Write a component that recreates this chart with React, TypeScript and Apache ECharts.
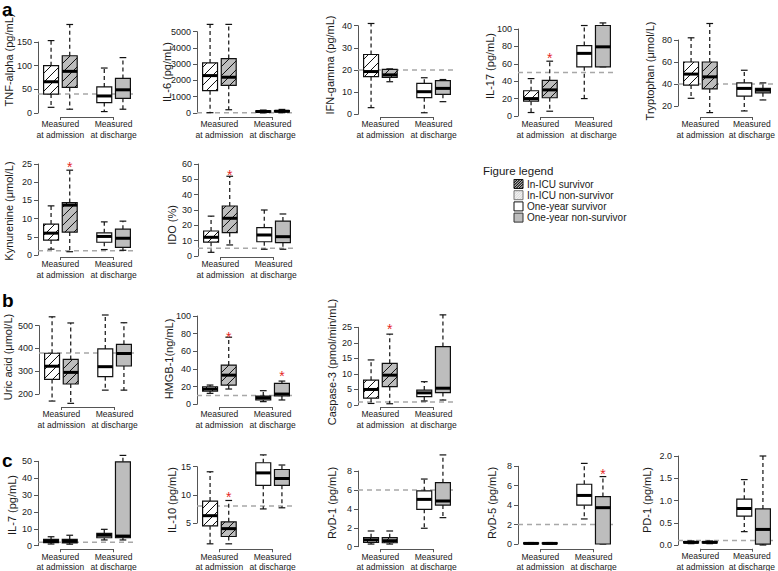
import React, { useEffect, useRef } from "react";
import * as echarts from "echarts";

const FONT = '"Liberation Sans", Arial, Helvetica, sans-serif';

// ---------------- data ----------------
const GROUPS = ["In-ICU survivor", "In-ICU non-survivor", "One-year survivor", "One-year non-survivor"];
const TIMEPOINTS = ["Measured\nat admission", "Measured\nat discharge"];

// each: [lower whisker, Q1, median, Q3, upper whisker] for the 4 groups
const tnfAlpha = [[12, 40, 66, 100, 153], [8, 54, 88, 121, 187], [3, 22, 36, 55, 95], [8, 31, 49, 73, 117]];
const il6 = [[20, 1370, 2300, 3080, 5450], [200, 1700, 2200, 3350, 5450], [10, 60, 90, 130, 180], [20, 70, 110, 150, 220]];
const ifnGamma = [[3, 17, 19.3, 27, 41], [14.7, 16.7, 17.8, 20.3, 20.5], [0.7, 7.5, 10.2, 14, 16.5], [5.7, 9, 11.7, 15.2, 15.7]];
const il17 = [[4, 17, 20, 29, 43], [5.5, 21, 30, 41, 63], [20, 56.5, 72, 81, 104], [56.5, 56.5, 79.5, 104, 107]];
const tryptophan = [[27, 39, 49, 60, 82], [14, 35.5, 46.5, 60, 95], [15.5, 29, 36, 41, 52.5], [25.5, 32, 34.5, 36, 41]];
const kynurenine = [[1.6, 4.1, 6, 8.5, 13.5], [0.9, 6.3, 13.7, 14.4, 23.3], [1.5, 3.5, 5.1, 6.1, 9.1], [1.3, 2.1, 4.6, 7.1, 9.3]];
const ido = [[2.4, 9, 12.2, 16.3, 26], [7.2, 15.2, 24.6, 32.6, 52], [4.4, 9.3, 13.7, 18.5, 30], [4.4, 8.7, 12.6, 22.8, 27.4]];
const uricAcid = [[169, 264, 322, 379, 539], [159, 244, 295, 352, 512], [217, 276, 320, 398, 547], [217, 323, 378, 418, 513]];
const hmgb1 = [[12.4, 15, 17.3, 19.9, 21.8], [17.3, 21.8, 33, 44.4, 76], [3, 4.9, 7.5, 9.4, 15.4], [4.9, 9.4, 11.6, 23.7, 26.3]];
const caspase3 = [[0.5, 2.2, 5, 8, 14.5], [0.4, 5.9, 9.6, 13.4, 22.8], [1.3, 2.7, 3.9, 4.8, 7.5], [1.6, 4, 5.4, 18.8, 29]];
const il7 = [[1, 1.8, 2.6, 3.8, 5.3], [0.9, 1.7, 2.6, 3.7, 6.2], [3.4, 4.7, 6.2, 7.3, 9.7], [3.4, 4.7, 5.7, 49.7, 53.5]];
const il10 = [[1.3, 4.5, 6.3, 8.9, 14.1], [1.3, 2.6, 4, 5.2, 9], [7.5, 11.7, 13.9, 15.7, 17.1], [7.7, 11.7, 12.9, 14.5, 15.3]];
const rvd1 = [[0.28, 0.46, 0.72, 0.95, 1.66], [0.28, 0.42, 0.63, 0.95, 1.66], [1.95, 3.95, 5, 5.9, 7.15], [3.07, 4.4, 4.83, 6.77, 9.7]];
const rvd5 = [[0, 0.03, 0.06, 0.12, 0.15], [0, 0.03, 0.06, 0.12, 0.15], [2.58, 4, 5, 6.15, 8.3], [0, 0, 3.74, 4.88, 6.94]];
const pd1 = [[0.03, 0.045, 0.06, 0.075, 0.09], [0.03, 0.045, 0.06, 0.075, 0.09], [0.3, 0.65, 0.82, 1.03, 1.47], [0, 0.02, 0.35, 0.81, 2.0]];

// y-axis tick labels
const tnfTicks = [0, 50, 100, 150];
const il6Ticks = [0, 1000, 2000, 3000, 4000, 5000];
const ifnTicks = [0, 10, 20, 30, 40];
const il17Ticks = [0, 20, 40, 60, 80, 100];
const trpTicks = [20, 40, 60, 80];
const kynTicks = [0, 5, 10, 15, 20, 25];
const idoTicks = [0, 10, 20, 30, 40, 50, 60];
const uricTicks = [200, 300, 400, 500];
const hmgbTicks = [0, 20, 40, 60, 80, 100];
const caspTicks = [0, 5, 10, 15, 20, 25];
const il7Ticks = [0, 10, 20, 30, 40, 50];
const il10Ticks = [5, 10, 15];
const rvd1Ticks = [0, 2, 4, 6, 8];
const rvd5Ticks = [0, 2, 4, 6, 8];
const pd1Ticks = [0, 0.5, 1, 1.5, 2];

// reference (normal) values, dashed lines
const referenceValues = [40, 10, 20, 50, 40, 1.2, 5, 380, 10, 1, 2, 8, 6, 2, 0.1];

// significance marks: [group index, value]
const il17Stars = [[1, 70]];
const kynStars = [[1, 25]];
const idoStars = [[1, 55]];
const hmgbStars = [[1, 80], [3, 35]];
const caspStars = [[1, 25.3]];
const il10Stars = [[1, 10.2]];
const rvd5Stars = [[3, 7.5]];

const PANELS = [
  { title: "TNF-alpha (pg/mL)", stats: tnfAlpha, ticks: tnfTicks, stars: [], dec: 0 },
  { title: "IL-6 (pg/mL)", stats: il6, ticks: il6Ticks, stars: [], dec: 0 },
  { title: "IFN-gamma (pg/mL)", stats: ifnGamma, ticks: ifnTicks, stars: [], dec: 0 },
  { title: "IL-17 (pg/mL)", stats: il17, ticks: il17Ticks, stars: il17Stars, dec: 0 },
  { title: "Tryptophan (μmol/L)", stats: tryptophan, ticks: trpTicks, stars: [], dec: 0 },
  { title: "Kynurenine (μmol/L)", stats: kynurenine, ticks: kynTicks, stars: kynStars, dec: 0 },
  { title: "IDO (%)", stats: ido, ticks: idoTicks, stars: idoStars, dec: 0 },
  { title: "Uric acid (μmol/L)", stats: uricAcid, ticks: uricTicks, stars: [], dec: 0 },
  { title: "HMGB-1(ng/mL)", stats: hmgb1, ticks: hmgbTicks, stars: hmgbStars, dec: 0 },
  { title: "Caspase-3 (pmol/min/mL)", stats: caspase3, ticks: caspTicks, stars: caspStars, dec: 0 },
  { title: "IL-7 (pg/mL)", stats: il7, ticks: il7Ticks, stars: [], dec: 0 },
  { title: "IL-10 (pg/mL)", stats: il10, ticks: il10Ticks, stars: il10Stars, dec: 0 },
  { title: "RvD-1 (pg/mL)", stats: rvd1, ticks: rvd1Ticks, stars: [], dec: 0 },
  { title: "RvD-5 (pg/mL)", stats: rvd5, ticks: rvd5Ticks, stars: rvd5Stars, dec: 0 },
  { title: "PD-1 (pg/mL)", stats: pd1, ticks: pd1Ticks, stars: [], dec: 1 },
];

// ---------------- layout ----------------
const BOX_X = [1, 2, 3.85, 4.85];
const BRACKET_X = [1.5, 4.35];
const X_MIN = 0.3;
const X_MAX = 5.55;
const GRID_W = 98;
const BOX_W = 0.8;
const HATCH_STEP = 9;

const LAYOUT = [
  { left: 38, top: 42, bottom: 113, bracket: 117, tx: 9, ty: 60 },
  { left: 197, top: 31.7, bottom: 113, bracket: 117, tx: 167, ty: 72 },
  { left: 358, top: 25.7, bottom: 114.3, bracket: 117, tx: 330, ty: 65 },
  { left: 518, top: 29, bottom: 116, bracket: 117, tx: 490, ty: 66 },
  { left: 678, top: 40, bottom: 106, bracket: 117, tx: 650, ty: 71 },
  { left: 38, top: 164, bottom: 255, bracket: 257, tx: 9, ty: 211 },
  { left: 198, top: 164, bottom: 256, bracket: 257, tx: 172, ty: 225 },
  { left: 39, top: 325.7, bottom: 394, bracket: 407, tx: 8, ty: 357 },
  { left: 197, top: 316, bottom: 404.3, bracket: 407, tx: 169, ty: 359 },
  { left: 358, top: 327.3, bottom: 405, bracket: 407, tx: 332, ty: 362 },
  { left: 38, top: 461.3, bottom: 545.7, bracket: 550, tx: 12, ty: 505 },
  { left: 197, top: 466.7, bottom: 523, bracket: 550, tx: 172, ty: 500 },
  { left: 358, top: 471, bottom: 546.7, bracket: 550, tx: 332, ty: 503 },
  { left: 518, top: 466.3, bottom: 544, bracket: 550, tx: 492, ty: 503 },
  { left: 678, top: 456, bottom: 545, bracket: 549.5, tx: 647, ty: 500 },
];

const AXIS_COLOR = "#555";
const TEXT_COLOR = "#1a1a1a";
const GRAY_FILL = "#bdbdbd";
const FILLS = ["#ffffff", GRAY_FILL, "#ffffff", GRAY_FILL];
const HATCHED = [true, true, false, false];

function hatchLines(x0: number, y0: number, x1: number, y1: number, step: number, style: any) {
  const out: any[] = [];
  const cStart = Math.ceil((x0 + y0) / step) * step;
  for (let c = cStart; c <= x1 + y1; c += step) {
    const xa = Math.max(x0, c - y1);
    const xb = Math.min(x1, c - y0);
    if (xb - xa > 0.3) {
      out.push({ type: "line", shape: { x1: xa, y1: c - xa, x2: xb, y2: c - xb }, style });
    }
  }
  return out;
}

function renderBox(params: any, api: any) {
  const x = api.value(0);
  const lo = api.value(1);
  const q1 = api.value(2);
  const med = api.value(3);
  const q3 = api.value(4);
  const hi = api.value(5);
  const g = api.value(6);
  const cx = api.coord([x, med])[0];
  const yLo = api.coord([x, lo])[1];
  const yQ1 = api.coord([x, q1])[1];
  const yMed = api.coord([x, med])[1];
  const yQ3 = api.coord([x, q3])[1];
  const yHi = api.coord([x, hi])[1];
  const hw = api.size([BOX_W, 0])[0] / 2;
  const capHw = hw * 0.45;
  const whisk = { stroke: "#111", lineWidth: 1.2, lineDash: [4, 3] };
  const solid = { stroke: "#111", lineWidth: 1.2 };
  const children: any[] = [];
  if (yHi < yQ3 - 0.5) children.push({ type: "line", shape: { x1: cx, y1: yQ3, x2: cx, y2: yHi }, style: whisk });
  if (yLo > yQ1 + 0.5) children.push({ type: "line", shape: { x1: cx, y1: yQ1, x2: cx, y2: yLo }, style: whisk });
  children.push({ type: "line", shape: { x1: cx - capHw, y1: yHi, x2: cx + capHw, y2: yHi }, style: solid });
  children.push({ type: "line", shape: { x1: cx - capHw, y1: yLo, x2: cx + capHw, y2: yLo }, style: solid });
  children.push({
    type: "rect",
    shape: { x: cx - hw, y: yQ3, width: hw * 2, height: Math.max(yQ1 - yQ3, 0.5) },
    style: { fill: FILLS[g], stroke: "none" },
  });
  if (HATCHED[g]) {
    children.push(...hatchLines(cx - hw, yQ3, cx + hw, yQ1, HATCH_STEP, { stroke: "#111", lineWidth: 1 }));
  }
  children.push({
    type: "rect",
    shape: { x: cx - hw, y: yQ3, width: hw * 2, height: Math.max(yQ1 - yQ3, 0.5) },
    style: { fill: "none", stroke: "#111", lineWidth: 1.2 },
  });
  children.push({ type: "line", shape: { x1: cx - hw, y1: yMed, x2: cx + hw, y2: yMed }, style: { stroke: "#000", lineWidth: 3 } });
  return { type: "group", children };
}

function buildOption() {
  const u = GRID_W / (X_MAX - X_MIN);
  const grid: any[] = [];
  const xAxis: any[] = [];
  const yAxis: any[] = [];
  const series: any[] = [];
  const graphic: any[] = [];

  PANELS.forEach((p, i) => {
    const L = LAYOUT[i];
    const mainIdx = 2 * i;
    const brIdx = 2 * i + 1;
    grid.push({ left: L.left, top: L.top, width: GRID_W, height: L.bottom - L.top });
    xAxis.push({ gridIndex: mainIdx, type: "value", min: X_MIN, max: X_MAX, show: false });
    yAxis.push({
      gridIndex: mainIdx,
      type: "value",
      min: p.ticks[0],
      max: p.ticks[p.ticks.length - 1],
      interval: p.ticks[1] - p.ticks[0],
      axisLine: { show: true, onZero: false, lineStyle: { color: AXIS_COLOR, width: 1 } },
      axisTick: { show: true, inside: false, length: 4, lineStyle: { color: AXIS_COLOR, width: 1 } },
      axisLabel: {
        show: true,
        showMinLabel: true,
        showMaxLabel: true,
        fontSize: 9,
        fontFamily: FONT,
        color: TEXT_COLOR,
        margin: 6,
        formatter: (v: number) => v.toFixed(p.dec),
      },
      splitLine: { show: false },
    });
    grid.push({
      left: L.left + (BRACKET_X[0] - X_MIN) * u,
      top: L.bracket - 1,
      width: (BRACKET_X[1] - BRACKET_X[0]) * u,
      height: 1,
    });
    xAxis.push({
      gridIndex: brIdx,
      type: "category",
      data: TIMEPOINTS,
      boundaryGap: false,
      axisLine: { show: true, onZero: false, lineStyle: { color: AXIS_COLOR, width: 1 } },
      axisTick: { show: true, inside: false, length: 3, lineStyle: { color: AXIS_COLOR } },
      axisLabel: {
        show: true,
        interval: 0,
        fontSize: 8.5,
        lineHeight: 10.5,
        margin: 2,
        fontFamily: FONT,
        color: TEXT_COLOR,
      },
      splitLine: { show: false },
    });
    yAxis.push({ gridIndex: brIdx, type: "value", show: false });

    series.push({
      type: "custom",
      name: "ref" + i,
      xAxisIndex: mainIdx,
      yAxisIndex: mainIdx,
      data: [[referenceValues[i]]],
      clip: false,
      silent: true,
      z: 1,
      renderItem: (params: any, api: any) => {
        const cs = params.coordSys;
        const y = api.coord([X_MIN, api.value(0)])[1];
        return {
          type: "line",
          shape: { x1: cs.x, y1: y, x2: cs.x + cs.width, y2: y },
          style: { stroke: "#a8a8a8", lineWidth: 1.5, lineDash: [5, 4] },
        };
      },
    });
    series.push({
      type: "custom",
      name: p.title,
      xAxisIndex: mainIdx,
      yAxisIndex: mainIdx,
      data: p.stats.map((s, g) => [BOX_X[g], ...s, g]),
      clip: false,
      silent: true,
      z: 3,
      renderItem: renderBox,
    });
    if (p.stars.length) {
      series.push({
        type: "custom",
        name: "sig" + i,
        xAxisIndex: mainIdx,
        yAxisIndex: mainIdx,
        data: p.stars.map(([g, v]) => [BOX_X[g], v]),
        clip: false,
        silent: true,
        z: 4,
        renderItem: (params: any, api: any) => {
          const pt = api.coord([api.value(0), api.value(1)]);
          return {
            type: "text",
            x: pt[0],
            y: pt[1] + 3,
            style: { text: "*", fill: "#e5261f", fontSize: 14, fontFamily: FONT, align: "center", verticalAlign: "middle" },
          };
        },
      });
    }

    graphic.push({
      type: "text",
      x: L.tx,
      y: L.ty,
      rotation: Math.PI / 2,
      silent: true,
      style: { text: p.title, fontSize: 11, fontFamily: FONT, fill: TEXT_COLOR, align: "center", verticalAlign: "middle" },
    });
  });

  // panel letters
  const letters = [
    { t: "a", y: 0 },
    { t: "b", y: 291 },
    { t: "c", y: 451 },
  ];
  letters.forEach((l) =>
    graphic.push({
      type: "text",
      x: 2,
      y: l.y,
      silent: true,
      style: { text: l.t, fontSize: 19, fontWeight: "bold", fontFamily: FONT, fill: "#000", align: "left", verticalAlign: "top" },
    })
  );

  // figure legend
  graphic.push({
    type: "text",
    x: 483,
    y: 171,
    silent: true,
    style: { text: "Figure legend", fontSize: 11.5, fontFamily: FONT, fill: TEXT_COLOR, align: "left", verticalAlign: "middle" },
  });
  const legY = [184, 195.2, 206.4, 217.6];
  const swFill = ["#ffffff", "#d4d4d4", "#ffffff", GRAY_FILL];
  const swHatch = ["#111", "#f4f4f4", null, null];
  const swStroke = ["#111", "#777", "#111", "#333"];
  GROUPS.forEach((name, g) => {
    const x0 = 514;
    const y0 = legY[g] - 4.5;
    const size = 9;
    const children: any[] = [
      { type: "rect", shape: { x: x0, y: y0, width: size, height: size }, style: { fill: swFill[g], stroke: "none" } },
    ];
    if (swHatch[g]) {
      children.push(...hatchLines(x0, y0, x0 + size, y0 + size, 2.6, { stroke: swHatch[g], lineWidth: 1.1 }));
    }
    children.push({
      type: "rect",
      shape: { x: x0, y: y0, width: size, height: size },
      style: { fill: "none", stroke: swStroke[g], lineWidth: 1 },
    });
    graphic.push({ type: "group", silent: true, children });
    graphic.push({
      type: "text",
      x: 527,
      y: legY[g],
      silent: true,
      style: { text: name, fontSize: 10, fontFamily: FONT, fill: TEXT_COLOR, align: "left", verticalAlign: "middle" },
    });
  });

  return {
    animation: false,
    backgroundColor: "#ffffff",
    textStyle: { fontFamily: FONT },
    grid,
    xAxis,
    yAxis,
    series,
    graphic,
  };
}

export default function App() {
  const ref = useRef<HTMLDivElement | null>(null);
  useEffect(() => {
    document.body.style.margin = "0";
    if (!ref.current) return;
    const chart = echarts.init(ref.current, null, { renderer: "svg" });
    chart.setOption(buildOption() as any);
    return () => chart.dispose();
  }, []);
  return (
    <div
      ref={ref}
      style={{ position: "absolute", left: 0, top: 0, width: 778, height: 571, background: "#fff" }}
    />
  );
}
